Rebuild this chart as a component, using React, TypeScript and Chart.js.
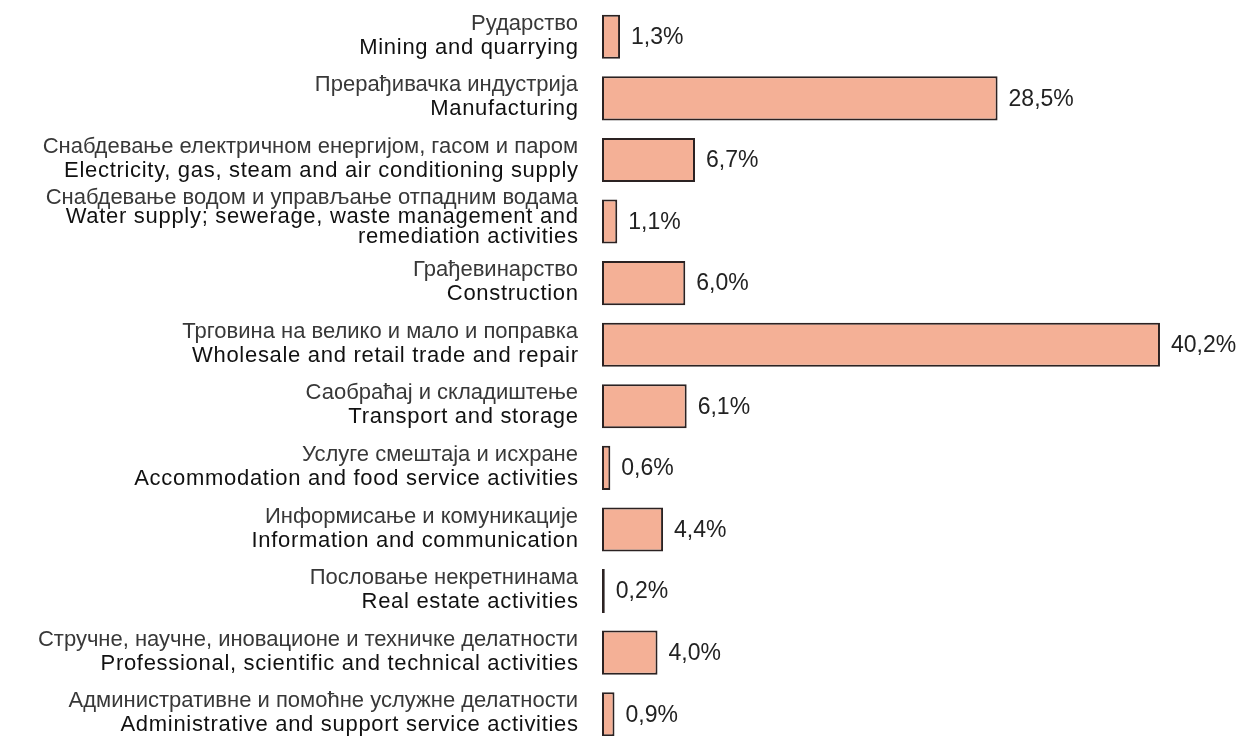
import React, { useEffect, useRef } from "react";
import { Chart, registerables } from "chart.js";

Chart.register(...registerables);

const labelsSr: string[] = [
  "Рударство",
  "Прерађивачка индустрија",
  "Снабдевање електричном енергијом, гасом и паром",
  "Снабдевање водом и управљање отпадним водама",
  "Грађевинарство",
  "Трговина на велико и мало и поправка",
  "Саобраћај и складиштење",
  "Услуге смештаја и исхране",
  "Информисање и комуникације",
  "Пословање некретнинама",
  "Стручне, научне, иновационе и техничке делатности",
  "Административне и помоћне услужне делатности",
];

const labelsEn: string[][] = [
  ["Mining and quarrying"],
  ["Manufacturing"],
  ["Electricity, gas, steam and air conditioning supply"],
  ["Water supply; sewerage, waste management and", "remediation activities"],
  ["Construction"],
  ["Wholesale and retail trade and repair"],
  ["Transport and storage"],
  ["Accommodation and food service activities"],
  ["Information and communication"],
  ["Real estate activities"],
  ["Professional, scientific and technical activities"],
  ["Administrative and support service activities"],
];

const shares: number[] = [1.3, 28.5, 6.7, 1.1, 6.0, 40.2, 6.1, 0.6, 4.4, 0.2, 4.0, 0.9];

const FONT = '"Liberation Sans", Arial, sans-serif';

const labelPlugin = {
  id: "customLabels",
  afterDatasetsDraw(chart: any) {
    const ctx = chart.ctx;
    const yScale = chart.scales.y;
    const meta = chart.getDatasetMeta(0);
    ctx.save();
    ctx.textBaseline = "middle";
    for (let i = 0; i < labelsSr.length; i++) {
      const cy = yScale.getPixelForValue(i);
      const lines = [labelsSr[i], ...labelsEn[i]];
      const n = lines.length;
      const lh = n > 2 ? 19.5 : 24;
      const off = n > 2 ? -4.5 : -1;
      const start = cy + off - ((n - 1) * lh) / 2;
      ctx.textAlign = "right";
      lines.forEach((ln, k) => {
        if (k === 0) {
          ctx.font = `22px ${FONT}`;
          (ctx as any).letterSpacing = "0px";
          ctx.fillStyle = "#383838";
          ctx.fillText(ln, chart.chartArea.left - 24, start + k * lh);
        } else {
          ctx.font = `22px ${FONT}`;
          (ctx as any).letterSpacing = "0.7px";
          ctx.fillStyle = "#111111";
          ctx.fillText(ln, chart.chartArea.left - 24 + 0.7, start + k * lh);
        }
      });
      (ctx as any).letterSpacing = "0px";
      const bar = meta.data[i];
      ctx.font = `23px ${FONT}`;
      ctx.textAlign = "left";
      ctx.fillStyle = "#222222";
      const txt = shares[i].toFixed(1).replace(".", ",") + "%";
      ctx.fillText(txt, bar.x + 11, cy + 1);
    }
    ctx.restore();
  },
};

export default function App() {
  const ref = useRef<HTMLCanvasElement | null>(null);
  useEffect(() => {
    if (!ref.current) return;
    const chart = new Chart(ref.current, {
      type: "bar",
      data: {
        labels: labelsSr,
        datasets: [
          {
            data: shares,
            backgroundColor: "#F4B096",
            borderColor: "#2b2222",
            borderWidth: 2,
            borderSkipped: false,
            barPercentage: 0.715,
            categoryPercentage: 1,
          },
        ],
      },
      options: {
        indexAxis: "y",
        animation: false,
        responsive: true,
        maintainAspectRatio: false,
        layout: { padding: { left: 602, right: 15.4, top: 6, bottom: 7 } },
        plugins: { legend: { display: false }, tooltip: { enabled: false } },
        scales: {
          x: { display: false, min: 0, max: 45, grid: { display: false } },
          y: { display: false, grid: { display: false } },
        },
      },
      plugins: [labelPlugin],
    });
    return () => chart.destroy();
  }, []);
  return (
    <div style={{ position: "fixed", left: 0, top: 0, width: 1242, height: 752, background: "#fff" }}>
      <canvas ref={ref} />
    </div>
  );
}
